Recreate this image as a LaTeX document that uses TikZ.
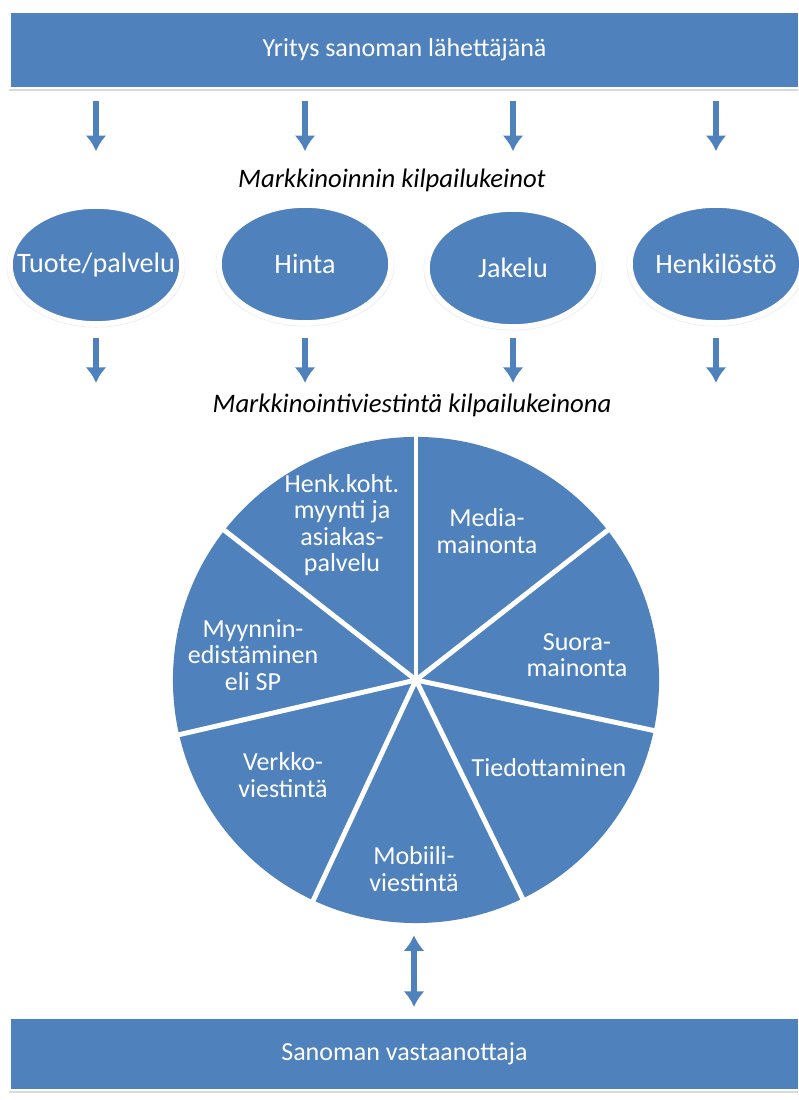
\documentclass[tikz,border=0pt]{standalone}
\usepackage{fontspec}
\setmainfont{Carlito}
\usetikzlibrary{shapes.geometric,arrows.meta,shadows}
\definecolor{accent}{HTML}{4F81BD}
\tikzset{
  bar/.style={fill=accent, draw=white, line width=1.5pt, minimum width=19.725cm, minimum height=1.9cm, text=white, font=\fontsize{18.5}{22}\selectfont, drop shadow={shadow xshift=-0.6pt, shadow yshift=-2pt, opacity=0.3}},
  means/.style={ellipse, fill=accent, draw=white, line width=4pt, minimum width=4.3cm, minimum height=2.95cm, inner xsep=-0.8cm, inner ysep=0pt, text=white, font=\fontsize{20}{24}\selectfont, drop shadow={shadow scale=1.04, shadow xshift=0pt, shadow yshift=-0.8pt, opacity=0.15}},
  heading/.style={font=\itshape\fontsize{19}{23}\selectfont},
  slice/.style={text=white, align=center, font=\fontsize{18.5}{18.8}\selectfont},
  gap/.style={draw=white, line width=3.5pt},
  arr/.style={draw=accent, line width=4pt, -{Latex[length=11pt,width=15pt]}}
}

\begin{document}
\begin{tikzpicture}[x=0.025cm, y=0.025cm]
  \useasboundingbox (0,0) rectangle (799,1100);
  % sender and receiver
  \node[bar] (sender) at (404.5,1050) {Yritys sanoman lähettäjänä};
  \node[bar, minimum height=1.8cm] (receiver) at (404.5,46) {Sanoman vastaanottaja};

  % competition means
  \node[heading] (meanstitle) at (392,920) {Markkinoinnin kilpailukeinot};
  \node[means] (tuote) at (96,835) {Tuote/palvelu};
  \node[means] (hinta) at (305,836) {Hinta};
  \node[means] (jakelu) at (513,832) {Jakelu};
  \node[means] (henkilo) at (716,836) {Henkilöstö};
  \foreach \m in {tuote,hinta,jakelu,henkilo}{
    \draw[arr] (sender.south -| \m) ++(0,-12) -- ++(0,-50);
    \draw[arr] (tuote.south -| \m) ++(0,-11) -- ++(0,-45);
  }

  % communication pie
  \node[heading] (commtitle) at (412,695) {Markkinointiviestintä kilpailukeinona};
  \node[circle, fill=accent, minimum size=12.15cm, inner sep=0pt] (pie) at (416,420) {};
  \foreach \a [evaluate=\a as \ang using 90-\a*360/7] in {0,...,6}
    \draw[gap, shorten >=-2pt] (pie.center) -- (pie.\ang);
  \node[slice] (henkkoht) at (342,575) {Henk.koht.\\myynti ja\\asiakas-\\palvelu};
  \node[slice] (media) at (487,569) {Media-\\mainonta};
  \node[slice] (suora) at (577,445) {Suora-\\mainonta};
  \node[slice] (tiedotus) at (549,332) {Tiedottaminen};
  \node[slice] (mobiili) at (414,231) {Mobiili-\\viestintä};
  \node[slice] (verkko) at (283,325) {Verkko-\\viestintä};
  \node[slice] (myynti) at (253,445) {Myynnin-\\edistäminen\\eli SP};

  \draw[arr, {Latex[length=11pt,width=15pt]}-{Latex[length=11pt,width=15pt]}]
    ([xshift=-1.4pt, yshift=-0.3cm]pie.south) -- ([xshift=-1.4pt, yshift=0.25cm]pie.south |- receiver.north);
\end{tikzpicture}
\end{document}
